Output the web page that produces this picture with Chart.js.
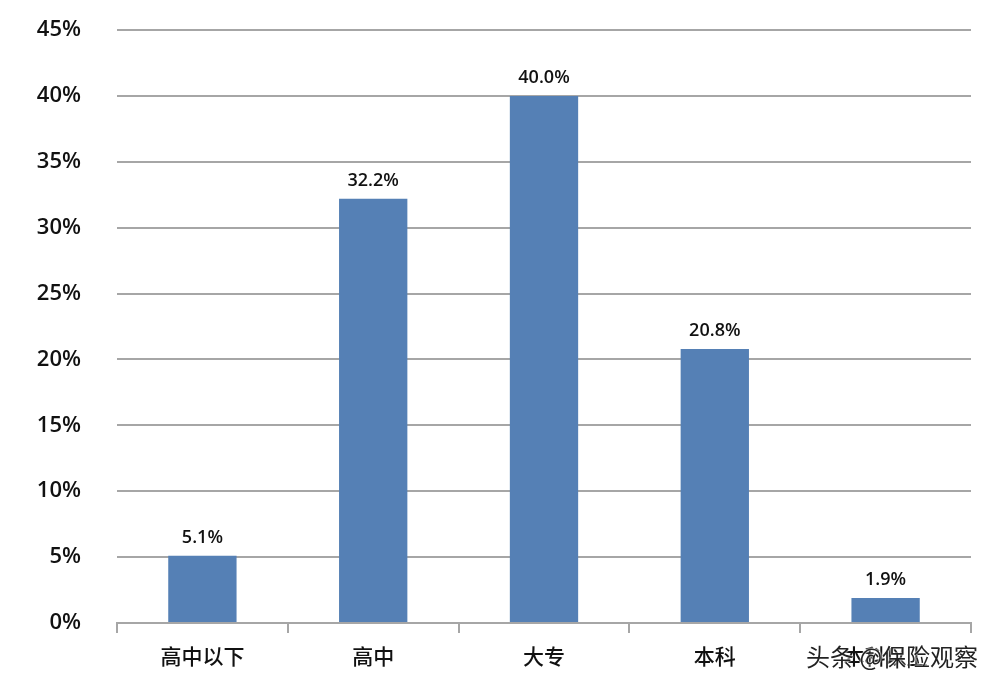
<!DOCTYPE html>
<html>
<head>
<meta charset="utf-8">
<script src="https://cdn.jsdelivr.net/npm/chart.js@4"></script>
<style>
  html, body { margin: 0; padding: 0; background: #fff; }
  #wrap { position: relative; width: 1007px; height: 686px; }
  #mark {
    position: absolute; left: 806px; top: 638px;
    font: 24px "Noto Sans CJK SC", sans-serif; color: #222;
    text-shadow: 0 0 2px #fff, 0 0 2px #fff;
  }
</style>
</head>
<body>
<div id="wrap">
  <canvas id="chart" width="1007" height="686"></canvas>
  <div id="mark">头条 @保险观察</div>
</div>
<script>
// ===== Data =====
const categories = ['高中以下', '高中', '大专', '本科', '本科以上'];
const shares = [5.1, 32.2, 40.0, 20.8, 1.9];

const GRID = '#a6a6a6';
const BAR = '#5580b5';
const TXT = '#111';

// value labels over each bar
const valueLabels = {
  id: 'valueLabels',
  afterDatasetsDraw(chart) {
    const { ctx } = chart;
    const meta = chart.getDatasetMeta(0);
    ctx.save();
    ctx.font = '600 18px "Open Sans", "Noto Sans", sans-serif';
    ctx.fillStyle = TXT;
    ctx.textAlign = 'center';
    ctx.textBaseline = 'bottom';
    meta.data.forEach((bar, i) => {
      ctx.fillText(shares[i].toFixed(1) + '%', bar.x, bar.y - 9);
    });
    ctx.restore();
  }
};

new Chart(document.getElementById('chart').getContext('2d'), {
  type: 'bar',
  data: {
    labels: categories,
    datasets: [{
      data: shares,
      backgroundColor: BAR,
      barPercentage: 0.8,
      categoryPercentage: 0.5
    }]
  },
  options: {
    responsive: false,
    animation: false,
    layout: { padding: { top: 0, right: 36, left: 0, bottom: 0 } },
    plugins: {
      legend: { display: false },
      tooltip: { enabled: false }
    },
    scales: {
      x: {
        afterFit: s => { s.height = 63; },
        border: { display: true, color: GRID, width: 2 },
        grid: {
          offset: true,
          drawOnChartArea: false,
          drawTicks: true,
          tickLength: 10,
          color: GRID,
          lineWidth: 2
        },
        ticks: {
          color: TXT,
          padding: 10,
          font: { family: '"Noto Sans CJK SC", sans-serif', size: 21, weight: '500' }
        }
      },
      y: {
        min: 0,
        max: 45,
        afterFit: s => { s.width = 117; s.paddingTop = 30; s.paddingBottom = 0; },
        border: { display: false },
        grid: { color: GRID, lineWidth: 2, drawTicks: false },
        ticks: {
          stepSize: 5,
          padding: 36,
          color: TXT,
          font: { family: '"Open Sans", "Noto Sans", sans-serif', size: 22, weight: '600' },
          callback: v => v + '%'
        }
      }
    }
  },
  plugins: [valueLabels]
});
</script>
</body>
</html>
